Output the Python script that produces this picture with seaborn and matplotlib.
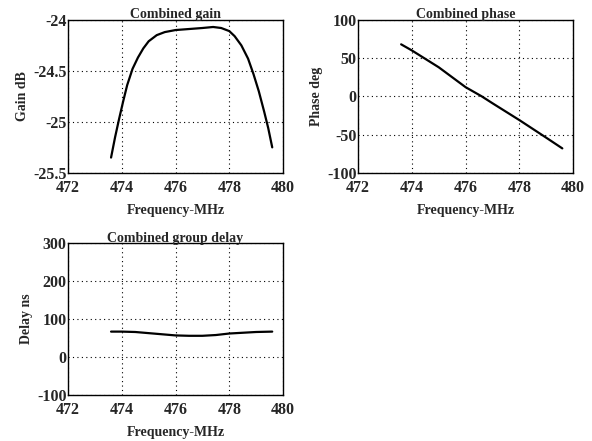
import numpy as np
import pandas as pd
import matplotlib
matplotlib.use("Agg")
import matplotlib.pyplot as plt
import seaborn as sns

# values
gain_freq = [473.6, 473.75, 473.9, 474.05, 474.2, 474.4, 474.6, 474.8, 475.0, 475.3, 475.6,
             476.0, 476.5, 477.0, 477.4, 477.7, 478.0, 478.2, 478.45, 478.7, 478.9, 479.1,
             479.3, 479.45, 479.6]
gain_db = [-25.35, -25.15, -24.97, -24.8, -24.64, -24.48, -24.37, -24.28, -24.21, -24.15, -24.12,
           -24.1, -24.09, -24.08, -24.07, -24.08, -24.11, -24.16, -24.25, -24.38, -24.53, -24.7,
           -24.9, -25.06, -25.25]

phase_freq = [473.6, 474.0, 475.0, 476.0, 476.6, 477.0, 478.0, 479.0, 479.6]
phase_deg = [68, 60, 38, 12, 0, -9, -31, -54, -68]

delay_freq = [473.6, 474.0, 474.5, 475.0, 475.5, 476.0, 476.5, 477.0, 477.5, 478.0, 478.5, 479.0, 479.6]
delay_ns = [67, 67, 66, 63, 60, 57, 56, 56, 58, 62, 64, 66, 67]

x_ticks = [472, 474, 476, 478, 480]

sns.set_style("white")
plt.rcParams['font.family'] = ['Liberation Serif', 'DejaVu Serif']
plt.rcParams['font.weight'] = 'bold'

fig = plt.figure(figsize=(5.92, 4.41), dpi=100)

def panel(rect, xs, ys, title, ylabel, yticks, ylabels):
    ax = fig.add_axes(rect)
    df = pd.DataFrame({"f": xs, "v": ys})
    sns.lineplot(data=df, x="f", y="v", ax=ax, color="black", linewidth=1.6)
    ax.set_xlim(472, 480)
    ax.set_ylim(yticks[0], yticks[-1])
    ax.set_xticks(x_ticks)
    ax.set_yticks(yticks)
    ax.set_yticklabels(ylabels)
    ax.tick_params(direction="in", length=3, labelsize=11.5, width=0.8)
    ax.tick_params(axis="x", pad=5)
    ax.tick_params(axis="y", pad=1)
    ax.grid(True, color="black", linestyle=(0, (1, 3)), linewidth=0.8)
    for s in ax.spines.values():
        s.set_color("black")
        s.set_linewidth(1.0)
    ax.set_title(title, fontsize=10, pad=1, fontweight="bold")
    ax.set_xlabel("Frequency-MHz", fontsize=10, fontweight="bold", labelpad=6)
    ax.set_ylabel(ylabel, fontsize=10, fontweight="bold", labelpad=3)
    return ax

panel([0.115, 0.608, 0.363, 0.347], gain_freq, gain_db, "Combined gain", "Gain dB",
      [-25.5, -25, -24.5, -24], ["-25.5", "-25", "-24.5", "-24"])
panel([0.605, 0.608, 0.363, 0.347], phase_freq, phase_deg, "Combined phase", "Phase deg",
      [-100, -50, 0, 50, 100], ["-100", "-50", "0", "50", "100"])
panel([0.115, 0.104, 0.363, 0.345], delay_freq, delay_ns, "Combined group delay", "Delay ns",
      [-100, 0, 100, 200, 300], ["-100", "0", "100", "200", "300"])

fig.savefig("out.png", dpi=100)
